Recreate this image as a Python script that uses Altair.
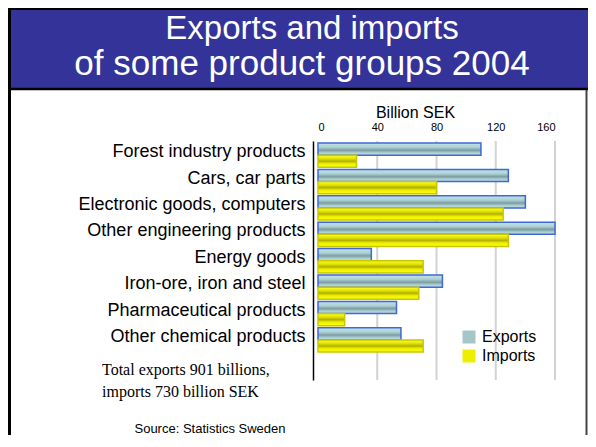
import altair as alt
import pandas as pd

CATEGORIES = ["Forest industry products", "Cars, car parts", "Electronic goods, computers",
              "Other engineering products", "Energy goods", "Iron-ore, iron and steel",
              "Pharmaceutical products", "Other chemical products"]
EXPORTS = [110, 128.5, 140, 161, 36, 84, 53, 56]
IMPORTS = [26, 80, 125, 128.5, 71, 68, 18, 71]
SERIES = ["Exports", "Imports"]
X_TICKS = [0, 40, 80, 120, 160]
GRID_VALUES = [40, 80, 120, 160]
TITLE_LINES = ["Exports and imports", "of some product groups 2004"]
NOTE_LINES = ["Total exports 901 billions,", "imports 730 billion SEK"]
SOURCE = ["Source: Statistics Sweden"]
AXIS_TITLE = "Billion SEK"

rows = []
for c, e, i in zip(CATEGORIES, EXPORTS, IMPORTS):
    rows.append({"category": c, "series": "Exports", "value": e})
    rows.append({"category": c, "series": "Imports", "value": i})
bars_df = pd.DataFrame(rows)

W, H = 237, 239
SANS = "Liberation Sans"

grad_exp = alt.LinearGradient(
    gradient="linear", x1=0, x2=0, y1=0, y2=1,
    stops=[alt.GradientStop(offset=0, color="#c4e2e4"),
           alt.GradientStop(offset=0.35, color="#acd2d6"),
           alt.GradientStop(offset=0.6, color="#7f9c9f"),
           alt.GradientStop(offset=0.8, color="#a9cfd2"),
           alt.GradientStop(offset=1, color="#c0e0e2")])
grad_imp = alt.LinearGradient(
    gradient="linear", x1=0, x2=0, y1=0, y2=1,
    stops=[alt.GradientStop(offset=0, color="#ffff30"),
           alt.GradientStop(offset=0.3, color="#e0e000"),
           alt.GradientStop(offset=0.5, color="#b0b000"),
           alt.GradientStop(offset=0.7, color="#eeee00"),
           alt.GradientStop(offset=1, color="#ffff10")])

x_scale = alt.Scale(domain=[0, 160], nice=False, clamp=True)
y_scale = alt.Scale(domain=CATEGORIES, paddingInner=0.08, paddingOuter=0.567, align=0.067)
yoff_scale = alt.Scale(domain=SERIES, paddingInner=0, paddingOuter=0)

x_axis = alt.Axis(orient="top", values=X_TICKS, grid=False, ticks=False, tickSize=0, domain=False,
                  labelFont=SANS, labelFontSize=11, labelColor="black", labelBaseline="middle",
                  labelPadding=14, title=AXIS_TITLE, titleFont=SANS, titleFontSize=16,
                  titleFontWeight="normal", titleColor="black", titleX=97, titleY=-29,
                  titleAlign="center", titleBaseline="middle", titleAnchor="start")
y_axis = alt.Axis(title=None, ticks=False, tickSize=0, domainColor="black", domainWidth=1.5,
                  offset=5, labelFont=SANS, labelFontSize=18, labelColor="black",
                  labelPadding=8, labelLimit=400, labelOffset=-3)

base = alt.Chart(bars_df)

# slide decorations
title_band = alt.Chart(alt.Data(values=[{}])).mark_rect(fill="#333399").encode(
    x=alt.value(-310), x2=alt.value(270), y=alt.value(-133), y2=alt.value(-53))
frame_df = pd.DataFrame({
    "x": [-308.5, -310, -310, 268.5], "x2": [-308.5, 270, 270, 268.5],
    "y": [-133, -52, -132, -51], "y2": [294, -52, -132, 294],
    "w": [3, 2.5, 2, 2], "c": ["black", "black", "black", "#444444"]})
frame = alt.Chart(frame_df).mark_rule().encode(
    x=alt.X("x:Q", scale=None), x2="x2", y=alt.Y("y:Q", scale=None), y2="y2",
    strokeWidth=alt.StrokeWidth("w:Q", scale=None), color=alt.Color("c:N", scale=None))

grid = alt.Chart(pd.DataFrame({"g": GRID_VALUES})).mark_rule(color="#d2d2d2", strokeWidth=2).encode(
    x=alt.X("g:Q", scale=x_scale, axis=x_axis))

legend_bars = base.mark_bar().encode(
    x=alt.X("value:Q", scale=x_scale, axis=x_axis),
    y=alt.Y("category:N", scale=y_scale, axis=y_axis, sort=CATEGORIES),
    yOffset=alt.YOffset("series:N", scale=yoff_scale, sort=SERIES),
    fill=alt.Fill("series:N", scale=alt.Scale(domain=SERIES, range=["#a4c6c9", "#eeee00"]),
                  legend=alt.Legend(title=None, orient="none", legendX=143, legendY=188,
                                    symbolType="square", symbolSize=169, symbolStrokeWidth=0,
                                    labelFont=SANS, labelFontSize=16, labelColor="black",
                                    labelOffset=5, rowPadding=3)))

grad_bars = base.mark_bar(strokeWidth=1.5).encode(
    x=alt.X("value:Q", scale=x_scale, axis=x_axis),
    y=alt.Y("category:N", scale=y_scale, axis=y_axis, sort=CATEGORIES),
    yOffset=alt.YOffset("series:N", scale=yoff_scale, sort=SERIES),
    fill=alt.condition(alt.datum.series == "Exports", alt.value(grad_exp), alt.value(grad_imp)),
    stroke=alt.condition(alt.datum.series == "Exports", alt.value("#3f68d8"), alt.value("#c8c800")))

title_df = pd.DataFrame({"t": TITLE_LINES, "x": [-6, -16], "y": [-102, -66], "s": [33, 35]})
title_text = alt.Chart(title_df).mark_text(font=SANS, color="white",
                                           align="center", baseline="alphabetic").encode(
    x=alt.X("x:Q", scale=None), y=alt.Y("y:Q", scale=None), text="t:N",
    size=alt.Size("s:Q", scale=None))

note_df = pd.DataFrame({"t": NOTE_LINES, "x": [-216, -216], "y": [234, 256]})
note_text = alt.Chart(note_df).mark_text(font="Liberation Serif", fontSize=16, color="black",
                                         align="left", baseline="alphabetic").encode(
    x=alt.X("x:Q", scale=None), y=alt.Y("y:Q", scale=None), text="t:N")

src_df = pd.DataFrame({"t": SOURCE, "x": [-108], "y": [292]})
src_text = alt.Chart(src_df).mark_text(font=SANS, fontSize=13, color="black",
                                       align="center", baseline="alphabetic").encode(
    x=alt.X("x:Q", scale=None), y=alt.Y("y:Q", scale=None), text="t:N")

chart = alt.layer(title_band, frame, grid, legend_bars, grad_bars, title_text, note_text, src_text).properties(
    width=W, height=H,
    padding={"left": 310, "top": 133, "right": 33, "bottom": 55},
    autosize=alt.AutoSizeParams(type="none"),
    background="white",
).configure_view(stroke=None)

chart.save("out.html", embed_options={"renderer": "svg", "actions": False})
